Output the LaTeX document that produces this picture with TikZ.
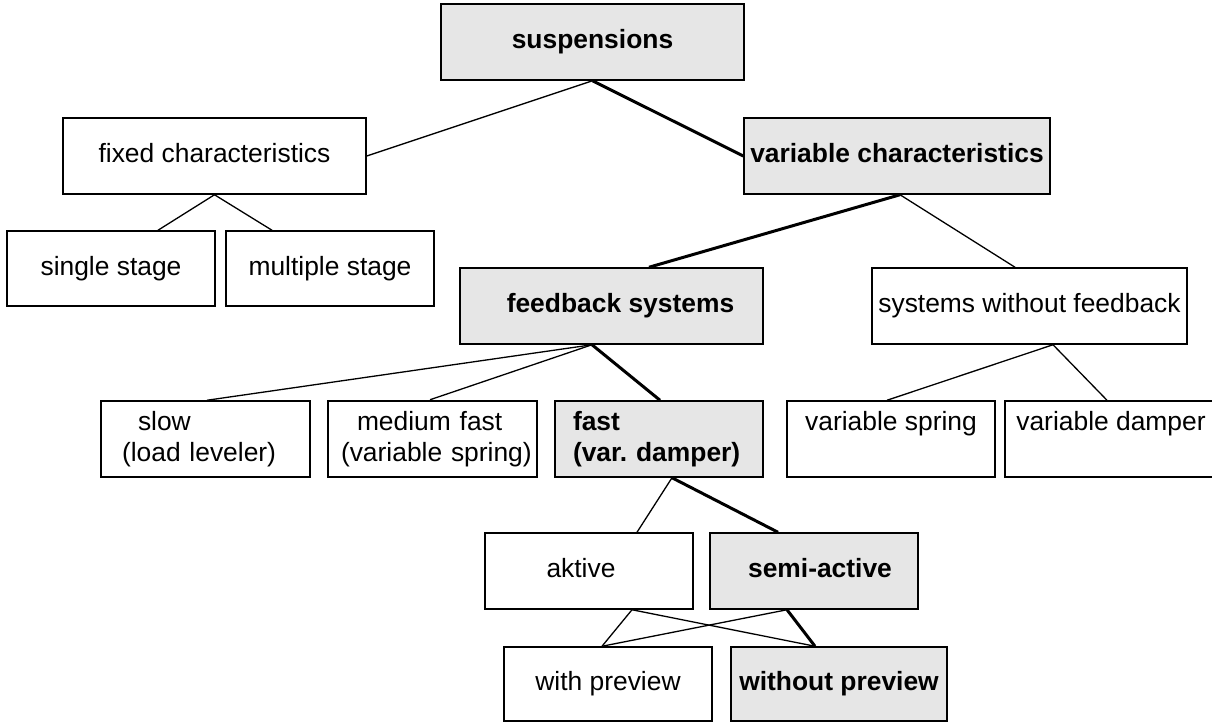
\documentclass[tikz,border=0pt]{standalone}
\usepackage{fontspec}
\setmainfont{Liberation Sans}
\frenchspacing
\definecolor{boxgray}{HTML}{E6E6E6}
\tikzset{
  base/.style={draw=black, line width=1.5pt, rectangle, inner sep=0pt,
    font=\fontsize{26.4pt}{31pt}\selectfont, minimum height=76pt},
  plain/.style={base, fill=white},
  shaded/.style={base, fill=boxgray, font=\fontsize{26.4pt}{31pt}\selectfont\bfseries},
  oneline/.style={text height=19pt, text depth=5.5pt},
  twoline/.style={align=left, text width=#1},
  thinlink/.style={line width=1.3pt},
  thicklink/.style={line width=3pt},
}
\begin{document}
\begin{tikzpicture}[x=1pt, y=-1pt]
\useasboundingbox (0,0) rectangle (1212,722);
% level 0
\node[shaded, oneline, minimum width=303pt] (susp) at (592.5,42) {suspensions};
% level 1
\node[plain, oneline, minimum width=303pt] (fixed) at (214.5,156) {fixed characteristics};
\node[shaded, oneline, minimum width=306pt] (var) at (897,156) {variable characteristics};
% level 2
\node[plain, oneline, minimum width=208pt, minimum height=75pt] (single) at (111,268.5) {single stage};
\node[plain, oneline, minimum width=208pt, minimum height=75pt] (multiple) at (330,268.5) {multiple stage};
\node[shaded, oneline, minimum width=303pt] (fb) at (611.5,306) {\hspace*{18pt}feedback systems};
\node[plain, oneline, minimum width=315pt] (swf) at (1029.5,306) {systems without feedback};
% level 3
\node[plain, twoline=209pt, minimum width=209pt] (slow) at (205.5,439)
  {\hspace*{37pt}slow\\\hspace*{21pt}(load leveler)};
\node[plain, line width=2.5pt, twoline=209pt, minimum width=209pt] (medium) at (432.5,439)
  {\hspace*{29pt}medium fast\\\hspace*{13pt}(variable spring)};
\node[shaded, twoline=208pt, minimum width=208pt] (fast) at (659,439)
  {\hspace*{18pt}fast\\\hspace*{18pt}(var.\ damper)};
\node[plain, align=center, minimum width=208pt] (vspring) at (891,439)
  {variable spring\\\phantom{(}};
\node[plain, align=center, minimum width=215pt] (vdamper) at (1112.5,439)
  {\hspace*{-3pt}variable damper\\\phantom{(}};
% level 4
\node[plain, oneline, minimum width=208pt] (aktive) at (589,571) {aktive\hspace*{16pt}};
\node[shaded, oneline, minimum width=208pt] (semi) at (814,571) {\hspace*{12pt}semi-active};
% level 5
\node[plain, oneline, minimum width=208pt, minimum height=74pt] (withp) at (608,684) {with preview};
\node[shaded, oneline, minimum width=216pt, minimum height=74pt] (withoutp) at (839,684) {without preview};
% connectors
\draw[thinlink] (susp.south) -- (fixed.east);
\draw[thicklink] (susp.south) -- (var.west);
\draw[thinlink] (fixed.south) -- ([xshift=47pt]single.north);
\draw[thinlink] (fixed.south) -- ([xshift=-58pt]multiple.north);
\draw[thicklink] ([xshift=3pt]var.south) -- ([xshift=37.5pt]fb.north);
\draw[thinlink] ([xshift=3pt]var.south) -- ([xshift=-14.5pt]swf.north);
\draw[thinlink] ([xshift=23.5pt]swf.south) -- ([xshift=-4pt]vspring.north);
\draw[thinlink] ([xshift=23.5pt]swf.south) -- ([xshift=-5.5pt]vdamper.north);
\draw[thinlink] ([xshift=-19.5pt]fb.south) -- ([xshift=1.5pt]slow.north);
\draw[thinlink] ([xshift=-19.5pt]fb.south) -- ([xshift=-2.5pt]medium.north);
\draw[thicklink] ([xshift=-19.5pt]fb.south) -- ([xshift=1pt]fast.north);
\draw[thinlink] ([xshift=13pt]fast.south) -- ([xshift=48pt]aktive.north);
\draw[thicklink] ([xshift=13pt]fast.south) -- ([xshift=-36pt]semi.north);
\draw[thinlink] ([xshift=43pt]aktive.south) -- ([xshift=-6pt]withp.north);
\draw[thinlink] ([xshift=43pt]aktive.south) -- ([xshift=-24pt]withoutp.north);
\draw[thinlink] ([xshift=-27pt]semi.south) -- ([xshift=-6pt]withp.north);
\draw[thicklink] ([xshift=-27pt]semi.south) -- ([xshift=-24pt]withoutp.north);
\end{tikzpicture}
\end{document}
